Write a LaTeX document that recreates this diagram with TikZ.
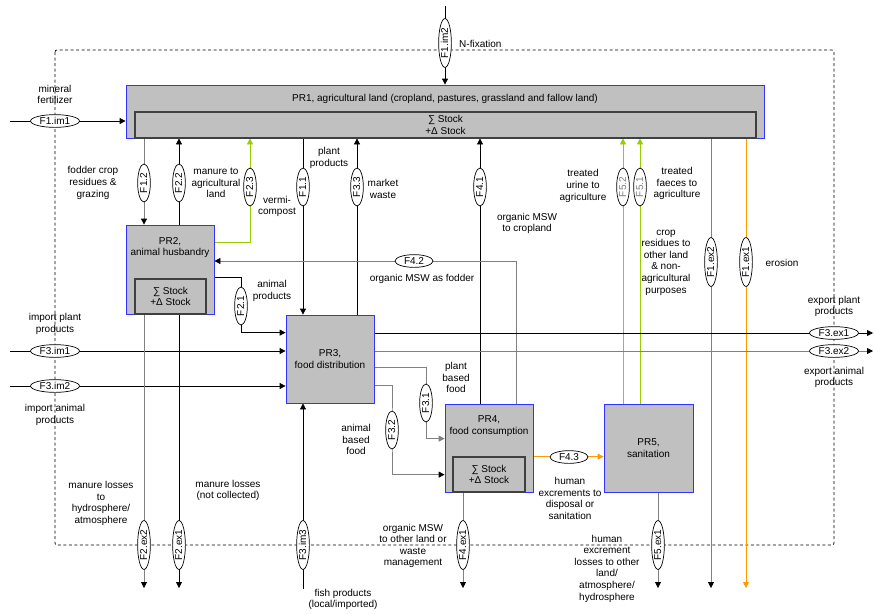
\documentclass[tikz,border=0pt]{standalone}
\usepackage{fontspec}
\setmainfont{Liberation Sans}
\usetikzlibrary{positioning,arrows.meta,shapes.geometric,backgrounds}
\definecolor{cBox}{HTML}{C0C0C0}
\definecolor{cBorder}{HTML}{3333FF}
\definecolor{cStock}{HTML}{404040}
\definecolor{cGreen}{HTML}{99CC00}
\definecolor{cOrange}{HTML}{FF9900}
\definecolor{cLine}{HTML}{808080}

\begin{document}
\begin{tikzpicture}[x=1pt, y=-1pt,
    font=\fontsize{10}{11.6}\selectfont,
    box/.style={draw=cBorder, fill=cBox, inner sep=0pt, line width=0.8pt, align=center},
    stock/.style={draw=cStock, fill=cBox, inner sep=0pt, line width=1.1pt, align=center},
    fh/.style={ellipse, draw, fill=white, line width=0.7pt, inner xsep=2pt, inner ysep=0pt, text height=7.5pt, text depth=1.5pt, minimum width=38pt},
    fv/.style={fh, rotate=90},
    lbl/.style={align=center, inner sep=0pt},
    arr/.style={-{Triangle[length=6pt,width=6pt]}, line width=0.8pt},
    garr/.style={arr, draw=cLine, -{Triangle[length=6pt,width=6pt,color=black]}},
    grarr/.style={arr, draw=cGreen},
    oarr/.style={arr, draw=cOrange},
    bound/.style={dashed, line width=0.7pt, dash pattern=on 3pt off 2.5pt, rounded corners=2pt}
]
\useasboundingbox (0,0) rectangle (874,614);

% processes
\node[box, minimum width=638pt, minimum height=53pt] (PR1) at (445,111.5) {};
\node[lbl] (PR1t) at (445,99) {PR1, agricultural land (cropland, pastures, grassland and fallow land)};
\node[stock, minimum width=621pt, minimum height=26pt] (PR1s) at (445.5,125) {∑ Stock\\+Δ Stock};

\node[box, minimum width=88pt, minimum height=89pt] (PR2) at (170,269.5) {};
\node[lbl] (PR2t) at (170,247.5) {PR2,\\animal husbandry};
\node[stock, minimum width=71pt, minimum height=35pt] (PR2s) at (170.5,296.5) {∑ Stock\\+Δ Stock};

\node[box, minimum width=88pt, minimum height=88pt] (PR3) at (330,359) {PR3,\\food distribution};

\node[box, minimum width=88pt, minimum height=88pt] (PR4) at (489,448) {};
\node[lbl] (PR4t) at (489,426) {PR4,\\food consumption};
\node[stock, minimum width=72pt, minimum height=35pt] (PR4s) at (489,474.5) {∑ Stock\\+Δ Stock};

\node[box, minimum width=89pt, minimum height=88pt] (PR5) at (648.5,448) {PR5,\\sanitation};

% flows
\node[fh] (f1im1) at (55,121) {F1.im1};
\node[fv] (f1im2) at (445,43) {F1.im2};
\node[fv] (f12) at (144,183) {F1.2};
\node[fv] (f22) at (179,183) {F2.2};
\node[fv] (f23) at (250,187) {F2.3};
\node[fv] (f11) at (303,187) {F1.1};
\node[fv] (f33) at (357,187) {F3.3};
\node[fv] (f41) at (480,187) {F4.1};
\node[fv, text=cLine] (f52) at (623,187) {F5.2};
\node[fv, text=cLine] (f51) at (640,187) {F5.1};
\node[fv] (f1ex2) at (711,262) {F1.ex2};
\node[fv] (f1ex1) at (746,262) {F1.ex1};
\node[fh] (f42) at (414,261) {F4.2};
\node[fv] (f21) at (241,306) {F2.1};
\node[fh] (f3im1) at (55,351) {F3.im1};
\node[fh] (f3im2) at (55,386) {F3.im2};
\node[fh] (f3ex1) at (834,333) {F3.ex1};
\node[fh] (f3ex2) at (834,351) {F3.ex2};
\node[fv] (f31) at (426,403) {F3.1};
\node[fv] (f32) at (392,430) {F3.2};
\node[fh] (f43) at (569,457) {F4.3};
\node[fv] (f2ex2) at (144,545) {F2.ex2};
\node[fv] (f2ex1) at (179,545) {F2.ex1};
\node[fv] (f3im3) at (303,545) {F3.im3};
\node[fv] (f4ex1) at (463,545) {F4.ex1};
\node[fv] (f5ex1) at (658,545) {F5.ex1};

% labels
\node[lbl] (l1im1) at (55,94.5) {mineral\\fertilizer};
\node[lbl, anchor=west] (l1im2) at (459,44) {N-fixation};
\node[lbl] (l12) at (93,183) {fodder crop\\residues \&\\grazing};
\node[lbl] (l22) at (216,183) {manure to\\agricultural\\land};
\node[lbl] (l23) at (277,206.5) {vermi-\\compost};
\node[lbl] (l11) at (329,158) {plant\\products};
\node[lbl] (l33) at (383,189) {market\\waste};
\node[lbl] (l41) at (527,223.5) {organic MSW\\to cropland};
\node[lbl] (l52) at (583,186) {treated\\urine to\\agriculture};
\node[lbl] (l51) at (677,183.5) {treated\\faeces to\\agriculture};
\node[lbl] (l1ex2) at (666,262.5) {crop\\residues to\\other land\\\& non-\\agricultural\\purposes};
\node[lbl] (l1ex1) at (782,263) {erosion};
\node[lbl] (l21) at (272,291) {animal\\products};
\node[lbl] (l42) at (422,279) {organic MSW as fodder};
\node[lbl] (l3im1) at (55,324) {import plant\\products};
\node[lbl] (l3im2) at (55,415) {import animal\\products};
\node[lbl] (l3ex1) at (834,306.5) {export plant\\products};
\node[lbl] (l3ex2) at (834,377.5) {export animal\\products};
\node[lbl] (l31) at (456,377.5) {plant\\based\\food};
\node[lbl] (l32) at (356,439.5) {animal\\based\\food};
\node[lbl] (l43) at (570,498.5) {human\\excrements to\\disposal or\\sanitation};
\node[lbl] (l2ex2) at (101,503.5) {manure losses\\to\\hydrosphere/\\atmosphere};
\node[lbl] (l2ex1) at (228,490.5) {manure losses\\(not collected)};
\node[lbl] (l4ex1) at (413,546) {organic MSW\\to other land or\\waste\\management};
\node[lbl] (l5ex1) at (607,568.5) {human\\excrement\\losses to other\\land/\\atmosphere/\\hydrosphere};
\node[lbl] (l3im3) at (343,599.5) {fish products\\(local/imported)};

% free ends
\coordinate (in11) at (10,121);
\coordinate (in12) at (445,6);
\coordinate (in31) at (10,351);
\coordinate (in32) at (10,386);
\coordinate (in33) at (303,589);
\coordinate (ex31) at (873,333);
\coordinate (ex32) at (873,351);
\foreach \n/\x in {o2ex2/144, o2ex1/179, o4ex1/463, o5ex1/658, o1ex2/711, o1ex1/746}
  \coordinate (\n) at (\x,588);

\begin{scope}[on background layer]
\draw[bound] (55,50) rectangle (834,545);

\draw[arr] (in11) -- (in11 -| PR1.west);
\draw[arr] (in12) -- (in12 |- PR1.north);
\draw[garr] (f12 |- PR1.south) -- (f12 |- PR2.north);
\draw[arr] (f22 |- PR2.north) -- (f22 |- PR1.south);
\draw[grarr] ([yshift=-18pt]PR2.north east) -| (f23 |- PR1.south);
\draw[arr] (f11 |- PR1.south) -- (f11 |- PR3.north);
\draw[arr] (f33 |- PR3.north) -- (f33 |- PR1.south);
\draw[arr] (f41 |- PR4.north) -- (f41 |- PR1.south);
\draw[garr] ([xshift=-17pt]PR4.north east) |- (f42 -| PR2.east);
\draw[grarr] (f52 |- PR5.north) -- (f52 |- PR1.south);
\draw[grarr] (f51 |- PR5.north) -- (f51 |- PR1.south);
\draw[garr] (f1ex2 |- PR1.south) -- (o1ex2);
\draw[oarr] (f1ex1 |- PR1.south) -- (o1ex1);
\draw[arr] ([yshift=-53pt]PR2.north east) -| (f21.center) |- ([yshift=-18pt]PR3.north west);
\draw[arr] (in31) -- (in31 -| PR3.west);
\draw[arr] (in32) -- (in32 -| PR3.west);
\draw[arr] (ex31 -| PR3.east) -- (ex31);
\draw[garr] (ex32 -| PR3.east) -- (ex32);
\draw[arr] (in33) -- (in33 |- PR3.south);
\draw[garr, -{Triangle[length=6pt,width=6pt]}] ([yshift=-53pt]PR3.north east) -| (f31.center) |- ([yshift=-35pt]PR4.north west);
\draw[garr] ([yshift=-71pt]PR3.north east) -| (f32.center) |- ([yshift=-71pt]PR4.north west);
\draw[oarr] ([yshift=-53pt]PR4.north east) -- ([yshift=-53pt]PR5.north west);
\draw[garr] (f2ex2 |- PR2.south) -- (o2ex2);
\draw[arr] (f2ex1 |- PR2.south) -- (o2ex1);
\draw[garr] (f4ex1 |- PR4.south) -- (o4ex1);
\draw[garr] (f5ex1 |- PR5.south) -- (o5ex1);
\end{scope}
\end{tikzpicture}
\end{document}
